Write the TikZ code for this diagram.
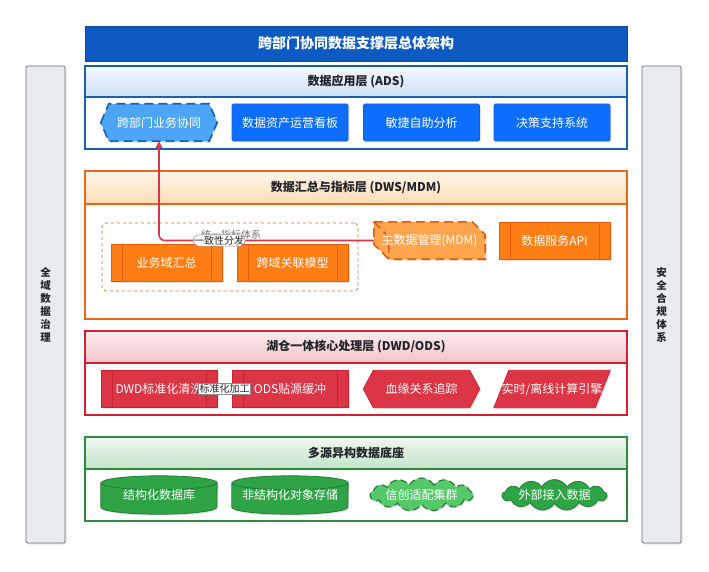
\documentclass[tikz,border=0pt]{standalone}
\usepackage{fontspec}
\setmainfont{Noto Sans CJK SC}
\usetikzlibrary{shapes.geometric,shapes.symbols,shadows,calc,arrows.meta}
\pgfdeclarelayer{bg}\pgfdeclarelayer{shp}\pgfsetlayers{bg,shp,main}
\definecolor{titleblue}{HTML}{0D5BC2}
\definecolor{titleline}{HTML}{0A4A9E}
\definecolor{adsline}{HTML}{1A5FB4}
\definecolor{adsfill}{HTML}{0D6EFD}
\definecolor{adsdark}{HTML}{0B5ED7}
\definecolor{hexfill}{HTML}{4DA6F5}
\definecolor{hexline}{HTML}{1560BD}
\definecolor{dwsline}{HTML}{E8671A}
\definecolor{orfill}{HTML}{FD7E14}
\definecolor{orline}{HTML}{E8590C}
\definecolor{mdmfill}{HTML}{FFA54D}
\definecolor{odsline}{HTML}{D21F33}
\definecolor{rdfill}{HTML}{DC3545}
\definecolor{rdline}{HTML}{C82333}
\definecolor{gnline}{HTML}{2E8B3E}
\definecolor{gnfill}{HTML}{2FA446}
\definecolor{gndark}{HTML}{1E7E34}
\definecolor{gnlight}{HTML}{55C96A}
\definecolor{sidefill}{HTML}{E9ECEF}
\definecolor{sideline}{HTML}{6C757D}
\definecolor{hdrtext}{HTML}{212529}
\definecolor{arrowred}{HTML}{DC3545}
\tikzset{
  layerbox/.style={draw=#1, line width=1.1pt, fill=white, minimum width=542, inner sep=0},
  hdr/.style={draw=#1, line width=1.1pt, minimum width=542, inner sep=0,
    font=\fontsize{12}{14}\selectfont\bfseries, text=hdrtext},
  soft/.style={drop shadow={opacity=0.22, shadow xshift=1.5pt, shadow yshift=-1.5pt}},
  item/.style={minimum width=116, minimum height=37, inner sep=0, text=white,
    font=\fontsize{12}{14}\selectfont},
  adsbtn/.style={item, fill=adsfill, draw=adsdark, line width=0.8pt, rounded corners=1.5pt, soft},
  proc/.style={item, fill=#1fill, draw=#1line, line width=0.8pt, soft,
    path picture={\draw[#1line, line width=0.8pt]
      ([xshift=11pt]path picture bounding box.north west) -- ([xshift=11pt]path picture bounding box.south west)
      ([xshift=-11pt]path picture bounding box.north east) -- ([xshift=-11pt]path picture bounding box.south east);}},
  lbl/.style={fill=white, draw=black!45, line width=0.5pt, inner sep=1pt,
    font=\fontsize{10}{11}\selectfont, text=black!85},
  flow/.style={draw=arrowred, line width=1.6pt, rounded corners=6pt,
    -{Triangle[length=7pt,width=7pt]}},
  side/.style={fill=sidefill, draw=sideline, line width=0.8pt, rounded corners=2pt,
    minimum width=39, minimum height=477, inner sep=0, soft, align=center,
    font=\fontsize{10.5}{13}\selectfont\bfseries, text=hdrtext},
  cloudbox/.style={cloud, cloud puffs=13, cloud puff arc=120, cloud ignores aspect,
    inner sep=0, soft, text=white, font=\fontsize{12}{14}\selectfont}
}
\begin{document}
\begin{tikzpicture}[x=1pt,y=-1pt]
\useasboundingbox (0,0) rectangle (709,572);
\begin{pgfonlayer}{bg}
\fill[white] (0,0) rectangle (709,572);
\end{pgfonlayer}

% side bars
\node[side] (gov) at (45.5,304.5) {全\\域\\数\\据\\治\\理};
\node[side] (sec) at (661.5,304.5) {安\\全\\合\\规\\体\\系};

% title
\node[fill=titleblue, draw=titleline, line width=0.8pt, minimum width=542, minimum height=35,
  inner sep=0, text=white, font=\fontsize{14}{16}\selectfont\bfseries] (title) at (356,43.5)
  {跨部门协同数据支撑层总体架构};

% layer frames
\begin{pgfonlayer}{bg}
\node[layerbox=adsline, minimum height=83] (ads) at (356,107.5) {};
\node[layerbox=dwsline, minimum height=148] (dws) at (356,245) {};
\node[layerbox=odsline, minimum height=84] (ods) at (356,373) {};
\node[layerbox=gnline, minimum height=84] (base) at (356,479) {};
\end{pgfonlayer}
\node[hdr=adsline, top color={rgb,255:red,244;green,248;blue,254}, bottom color={rgb,255:red,205;green,224;blue,246}, minimum height=31] (adsh) at (356,81.5) {数据应用层 (ADS)};
\node[hdr=dwsline, top color={rgb,255:red,255;green,246;blue,234}, bottom color={rgb,255:red,253;green,220;blue,181}, minimum height=33] (dwsh) at (356,187.5) {数据汇总与指标层 (DWS/MDM)};
\node[hdr=odsline, top color={rgb,255:red,251;green,236;blue,238}, bottom color={rgb,255:red,243;green,196;blue,201}, minimum height=32] (odsh) at (356,347) {湖仓一体核心处理层 (DWD/ODS)};
\node[hdr=gnline, top color={rgb,255:red,238;green,248;blue,240}, bottom color={rgb,255:red,196;green,227;blue,202}, minimum height=32] (baseh) at (356,453) {多源异构数据底座};

% ADS items
\node[item] (h1) at (159,122.5) {跨部门业务协同};
\node[adsbtn] (a2) at (290,122.5) {数据资产运营看板};
\node[adsbtn] (a3) at (421.5,122.5) {敏捷自助分析};
\node[adsbtn] (a4) at (552,122.5) {决策支持系统};
\begin{pgfonlayer}{shp}
\draw[fill=hexfill, draw=hexline, line width=1.6pt, dash pattern=on 9pt off 5pt, soft]
  (h1.west) -- ([xshift=8pt]h1.north west) -- ([xshift=-8pt]h1.north east) -- (h1.east)
  -- ([xshift=-8pt]h1.south east) -- ([xshift=8pt]h1.south west) -- cycle;
\end{pgfonlayer}

% DWS items
\node[draw=dwsline, dashed, line width=0.8pt, rounded corners=4pt, minimum width=256,
  minimum height=68, inner sep=0] (grp) at (230,257) {};
\node[inner sep=0, text=black!55, font=\fontsize{10}{11}\selectfont] (grpl) at (231,235) {统一指标体系};
\node[proc=or, minimum width=111] (d1) at (166.5,262.5) {业务域汇总};
\node[proc=or, minimum width=111] (d2) at (292.5,262.5) {跨域关联模型};
\node[item, minimum width=111] (mdm) at (429.5,240.5) {主数据管理(MDM)};
\node[proc=or, minimum width=111] (api) at (554.5,240.5) {数据服务API};
\begin{pgfonlayer}{shp}
\draw[fill=mdmfill, draw=orline, line width=1.6pt, dash pattern=on 9pt off 5pt, soft]
  (mdm.north west) -- ([xshift=-13pt]mdm.north east) -- ([yshift=-13pt]mdm.north east)
  -- (mdm.south east) -- ([xshift=15pt]mdm.south west) -- ([yshift=15pt]mdm.south west) -- cycle;
\draw[draw=orline, line width=1.6pt, dash pattern=on 9pt off 5pt]
  (mdm.north west) -- ([xshift=15pt,yshift=-15pt]mdm.north west) -- ([xshift=15pt]mdm.south west);
\end{pgfonlayer}

% ODS items
\node[proc=rd] (dwd) at (159,389) {DWD标准化清洗};
\node[proc=rd] (odsb) at (290,389) {ODS贴源缓冲};
\node[item] (lin) at (421.5,389) {血缘关系追踪};
\node[item] (rt) at (552,389) {实时/离线计算引擎};
\begin{pgfonlayer}{shp}
\draw[fill=rdfill, draw=rdline, line width=0.8pt, soft]
  (lin.west) -- ([xshift=10pt]lin.north west) -- ([xshift=-10pt]lin.north east) -- (lin.east)
  -- ([xshift=-10pt]lin.south east) -- ([xshift=10pt]lin.south west) -- cycle;
\draw[fill=rdfill, draw=rdline, line width=0.8pt, soft]
  ([xshift=15pt]rt.north west) -- (rt.north east) -- ([xshift=-15pt]rt.south east) -- (rt.south west) -- cycle;
\end{pgfonlayer}

% base items
\node[item, minimum height=38] (db1) at (159,495) {结构化数据库};
\node[item, minimum height=38] (db2) at (290,495) {非结构化对象存储};
\begin{pgfonlayer}{shp}
\foreach \n in {db1,db2}{
\draw[fill=gnfill, draw=gndark, line width=0.8pt, soft]
  ([yshift=-7pt]\n.north west) -- ([yshift=7pt]\n.south west)
  arc[start angle=180, end angle=360, x radius=58pt, y radius=7pt]
  -- ([yshift=-7pt]\n.north east)
  arc[start angle=0, end angle=180, x radius=58pt, y radius=7pt] -- cycle;
\draw[draw=gndark, line width=0.8pt]
  ([yshift=-7pt]\n.north west) arc[start angle=180, end angle=360, x radius=58pt, y radius=7pt];
}
\end{pgfonlayer}
\node[cloudbox, minimum width=103, minimum height=33, fill=gnlight, draw=gndark,
  line width=1.2pt, dash pattern=on 7pt off 4pt] (c1) at (421.5,494.5) {信创适配集群};
\node[cloudbox, minimum width=105, minimum height=31, fill=gnfill, draw=gndark,
  line width=0.8pt] (c2) at (554.5,495) {外部接入数据};

% connectors
\draw[draw=rdline, line width=1pt, -{Stealth[length=5pt]}] (dwd.east) -- (odsb.west)
  node[lbl, midway] {标准化加工};
\draw[flow] (mdm.west) -| (h1.south) node[lbl, pos=0.36] {一致性分发};
\end{tikzpicture}
\end{document}
